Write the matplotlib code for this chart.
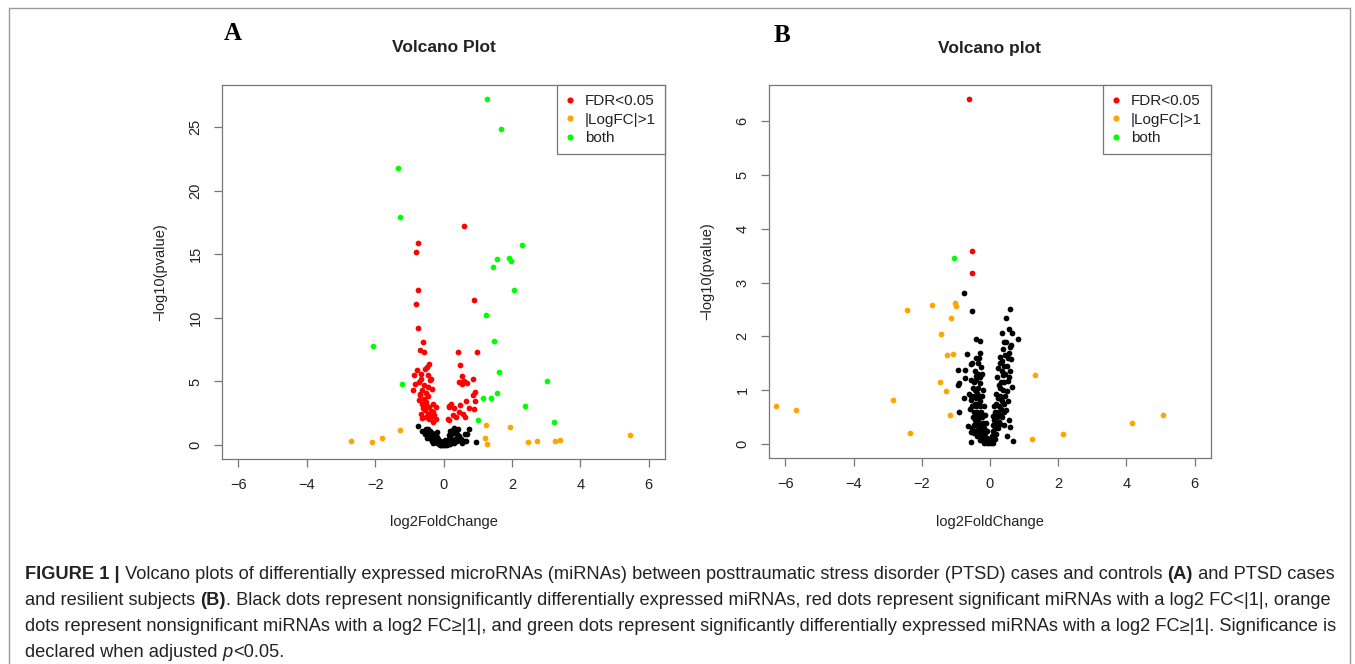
import matplotlib
matplotlib.use("Agg")
import matplotlib.pyplot as plt
from matplotlib.lines import Line2D
from matplotlib.ticker import MultipleLocator

RED = "#FF0000"
ORANGE = "#FFA500"
GREEN = "#00FF00"

# ---- panel A (PTSD vs controls): (log2FoldChange, -log10 pvalue) ----
a_green = [(1.28, 27.2), (1.67, 24.8), (-1.33, 21.8), (-1.27, 17.9), (2.30, 15.7),
           (1.56, 14.6), (1.92, 14.7), (1.97, 14.45), (1.45, 14.0), (2.07, 12.2),
           (1.25, 10.2), (1.49, 8.16), (-2.05, 7.8), (1.62, 5.75), (3.04, 5.07),
           (-1.21, 4.8), (1.16, 3.69), (1.40, 3.74), (1.56, 4.1), (2.38, 3.06),
           (3.23, 1.78), (1.00, 1.96)]
a_orange = [(-2.72, 0.29), (-2.08, 0.21), (-1.81, 0.57), (-1.28, 1.2), (1.25, 1.6),
            (1.95, 1.41), (1.22, 0.55), (1.28, 0.1), (2.48, 0.24), (2.73, 0.29),
            (3.27, 0.34), (3.41, 0.39), (5.46, 0.76)]
a_red = [(-0.74, 15.9), (-0.81, 15.2), (0.59, 17.2), (0.89, 11.4),
         (-0.74, 12.2), (-0.81, 11.06), (-0.74, 9.2), (-0.60, 8.1), (-0.70, 7.5),
         (-0.56, 7.3), (-0.43, 6.4), (-0.49, 6.14), (-0.85, 5.54), (-0.65, 5.6),
         (-0.46, 5.54), (-0.72, 4.97), (-0.58, 4.7), (-0.39, 5.1), (-0.36, 5.23),
         (-0.88, 4.31), (-0.62, 4.37), (-0.51, 4.1), (-0.35, 4.44), (-0.72, 3.58),
         (-0.56, 3.66), (-0.46, 3.84), (-0.32, 3.27), (-0.60, 2.93), (-0.41, 3.0),
         (-0.22, 3.0), (-0.67, 2.43), (-0.46, 2.48), (-0.27, 2.35), (-0.41, 2.09),
         (-0.22, 2.09), (-0.32, 1.83), (0.16, 3.06), (0.13, 2.04), (-0.78, 5.9),
         (-0.66, 5.2), (-0.52, 3.4), (-0.38, 2.7), (-0.63, 3.2), (-0.30, 2.6),
         (-0.50, 2.2), (-0.45, 4.6), (-0.70, 4.0), (-0.55, 6.0), (-0.82, 4.8),
         (-0.68, 3.9), (-0.53, 2.75), (-0.36, 2.2), (-0.64, 2.1), (-0.48, 3.1),
         (0.41, 7.35), (0.99, 7.35), (0.49, 6.27), (0.54, 5.47), (0.86, 5.2),
         (0.45, 4.95), (0.55, 4.8), (0.70, 4.85), (0.91, 4.18), (0.86, 3.9),
         (0.65, 3.47), (0.92, 3.45), (0.23, 3.2), (0.16, 2.98), (0.32, 2.88),
         (0.49, 3.19), (0.88, 2.85), (0.57, 2.48), (0.16, 2.0), (0.37, 2.22),
         (0.45, 2.6), (0.75, 2.9), (0.28, 2.4), (0.62, 2.2), (0.50, 4.95), (0.60, 5.0)]
a_black = [(-0.74, 1.5), (-0.62, 1.15), (-0.44, 0.9), (-0.45, 1.25), (0.76, 1.28),
           (0.70, 0.89), (0.63, 0.91), (0.94, 0.26), (0.66, 0.29), (-0.40, 1.1),
           (-0.35, 0.95), (-0.30, 0.8), (-0.28, 0.6), (-0.25, 0.5), (-0.22, 0.4),
           (-0.20, 0.3), (-0.18, 0.2), (-0.15, 0.15), (-0.12, 0.1), (-0.10, 0.05),
           (-0.08, 0.02), (-0.05, 0.0), (0.0, 0.02), (0.03, 0.05), (0.05, 0.1),
           (0.08, 0.15), (0.10, 0.25), (0.12, 0.35), (0.15, 0.45), (0.18, 0.6),
           (0.20, 0.75), (0.22, 0.9), (0.25, 1.05), (0.28, 1.2), (0.30, 1.35),
           (0.35, 1.1), (0.40, 0.9), (0.45, 0.7), (0.50, 0.5), (-0.33, 0.35),
           (-0.38, 0.5), (-0.42, 0.7), (-0.48, 0.6), (-0.25, 0.9), (-0.20, 0.65),
           (-0.10, 0.3), (0.0, 0.15), (0.10, 0.05), (0.20, 0.1), (0.30, 0.2),
           (0.35, 0.5), (0.25, 0.3), (0.15, 0.8), (0.05, 0.4), (-0.05, 0.25),
           (-0.15, 0.45), (0.40, 0.3), (0.55, 0.2), (0.60, 0.35), (-0.30, 0.2),
           (-0.55, 0.9), (-0.50, 1.3), (0.32, 0.95), (0.18, 1.1), (0.42, 1.25),
           (-0.20, 1.0)]

# ---- panel B (PTSD vs resilient) ----
b_red = [(-0.62, 6.41), (-0.54, 3.59), (-0.54, 3.17)]
b_green = [(-1.06, 3.45)]
b_orange = [(-2.44, 2.49), (-1.71, 2.58), (-1.04, 2.62), (-1.01, 2.56), (-1.15, 2.35),
            (-1.44, 2.04), (-1.25, 1.65), (-1.09, 1.67), (-1.47, 1.15), (-1.28, 0.99),
            (-1.17, 0.54), (-2.84, 0.82), (-2.35, 0.20), (-6.28, 0.71), (-5.68, 0.63),
            (1.31, 1.28), (1.23, 0.10), (2.15, 0.18), (4.16, 0.40), (5.06, 0.54)]
b_black = [(-0.77, 2.81), (-0.54, 2.48), (-0.40, 1.95), (-0.30, 1.92), (-0.67, 1.67),
           (-0.40, 1.60), (-0.32, 1.60), (-0.25, 1.44), (-0.57, 1.48), (-0.72, 1.38),
           (-0.93, 1.37), (-0.40, 1.27), (-0.72, 1.23), (-0.91, 1.13), (-0.95, 1.10),
           (-0.30, 1.13), (-0.62, 0.93), (-0.77, 0.86), (-0.57, 0.82), (-0.91, 0.59),
           (-0.64, 0.34), (-0.57, 0.22), (-0.56, 0.04), (-0.50, 1.05), (-0.45, 1.0),
           (-0.48, 0.9), (-0.42, 0.85), (-0.38, 0.95), (-0.35, 1.05), (-0.33, 0.9),
           (-0.45, 0.75), (-0.40, 0.7), (-0.52, 0.7), (-0.36, 0.75), (-0.30, 0.8),
           (-0.28, 0.7), (-0.47, 0.6), (-0.42, 0.55), (-0.38, 0.6), (-0.32, 0.55),
           (-0.25, 0.6), (-0.50, 0.5), (-0.44, 0.45), (-0.35, 0.45), (-0.28, 0.5),
           (-0.22, 0.5), (-0.46, 0.35), (-0.40, 0.38), (-0.33, 0.35), (-0.26, 0.38),
           (-0.20, 0.4), (-0.42, 0.25), (-0.36, 0.28), (-0.30, 0.25), (-0.23, 0.28),
           (-0.17, 0.3), (-0.38, 0.15), (-0.32, 0.18), (-0.26, 0.15), (-0.20, 0.18),
           (-0.14, 0.2), (-0.30, 0.08), (-0.22, 0.08), (-0.16, 0.1), (-0.10, 0.12),
           (-0.18, 0.03), (-0.12, 0.05), (-0.06, 0.06), (-0.08, 0.02), (-0.03, 0.03),
           (-0.55, 1.2), (-0.48, 1.15), (-0.42, 1.2), (-0.35, 1.3), (-0.28, 1.25),
           (-0.45, 1.35), (-0.52, 1.5), (-0.35, 1.5), (-0.30, 1.7), (-0.22, 1.3),
           (-0.20, 1.0), (-0.24, 0.9), (-0.18, 0.7), (-0.15, 0.55), (-0.12, 0.4),
           (-0.08, 0.25), (-0.55, 0.9), (-0.60, 0.65), (-0.52, 0.3), (-0.48, 0.2),
           (0.58, 2.51), (0.48, 2.35), (0.56, 2.14), (0.35, 2.06), (0.64, 2.06),
           (0.82, 1.95), (0.38, 1.76), (0.58, 1.80), (0.28, 1.61), (0.45, 1.65),
           (0.61, 1.59), (0.24, 1.42), (0.40, 1.45), (0.60, 1.36), (0.21, 1.24),
           (0.38, 1.28), (0.53, 1.18), (0.65, 1.07), (0.28, 1.05), (0.50, 0.98),
           (0.17, 0.93), (0.33, 0.84), (0.48, 0.63), (0.13, 0.70), (0.09, 0.53),
           (0.20, 0.5), (0.60, 0.31), (0.50, 0.16), (0.66, 0.05), (0.0, 0.04),
           (0.30, 1.5), (0.35, 1.35), (0.45, 1.3), (0.42, 1.15), (0.32, 1.15),
           (0.25, 1.1), (0.38, 1.0), (0.45, 0.9), (0.22, 0.85), (0.28, 0.9),
           (0.36, 0.8), (0.42, 0.75), (0.18, 0.75), (0.26, 0.7), (0.33, 0.65),
           (0.40, 0.6), (0.15, 0.6), (0.22, 0.6), (0.28, 0.55), (0.35, 0.5),
           (0.12, 0.45), (0.18, 0.4), (0.25, 0.42), (0.30, 0.38), (0.10, 0.35),
           (0.15, 0.3), (0.22, 0.3), (0.08, 0.25), (0.12, 0.2), (0.18, 0.18),
           (0.05, 0.15), (0.09, 0.12), (0.14, 0.1), (0.03, 0.08), (0.06, 0.05),
           (0.10, 0.03), (0.02, 0.02), (0.50, 1.45), (0.52, 1.6), (0.48, 1.9),
           (0.55, 1.7), (0.40, 1.9), (0.62, 1.85), (0.35, 1.55), (0.55, 1.25),
           (0.52, 0.8), (0.40, 0.35), (0.55, 0.45)]

x_ticks = [-6, -4, -2, 0, 2, 4, 6]
legend_labels = ["FDR<0.05", "|LogFC|>1", "both"]

caption_lines = [
    [("FIGURE 1 |", "bold"), (" Volcano plots of differentially expressed microRNAs (miRNAs) between "
     "posttraumatic stress disorder (PTSD) cases and controls ", "normal"), ("(A)", "bold"),
     (" and PTSD cases", "normal")],
    [("and resilient subjects ", "normal"), ("(B)", "bold"),
     (". Black dots represent nonsignificantly differentially expressed miRNAs, red dots represent "
      "significant miRNAs with a log2 FC<|1|, orange", "normal")],
    [("dots represent nonsignificant miRNAs with a log2 FC\u2265|1|, and green dots represent "
      "significantly differentially expressed miRNAs with a log2 FC\u2265|1|. Significance is", "normal")],
    [("declared when adjusted ", "normal"), ("p", "italic"), ("<0.05.", "normal")],
]

W, H = 1355, 664
SANS = ["Liberation Sans", "DejaVu Sans"]
GRAY = "#777777"
TXT = "#222222"

fig = plt.figure(figsize=(W / 100, H / 100), dpi=100)


def fx(x):
    return x / W


def fy(y):
    return 1 - y / H


def panel(box, black, red, orange, green, ystep, title, letter, letter_pos):
    l, t, r, b = box
    ax = fig.add_axes([fx(l), fy(b), fx(r) - fx(l), fy(t) - fy(b)])
    for pts, col in ((black, "black"), (red, RED), (orange, ORANGE), (green, GREEN)):
        ax.scatter([p[0] for p in pts], [p[1] for p in pts], s=17, c=col, lw=0, zorder=3)
    ymax = max(p[1] for pts in (black, red, orange, green) for p in pts)
    ax.set_xlim(-6.48, 6.48)
    ax.set_ylim(-0.04 * ymax, 1.04 * ymax)
    ax.set_xticks(x_ticks)
    ax.yaxis.set_major_locator(MultipleLocator(ystep))
    ax.tick_params(direction="out", length=6, width=0.9, color=GRAY, labelsize=10.5,
                   labelcolor=TXT, pad=8)
    ax.tick_params(axis="y", labelrotation=90)
    for lab in ax.get_yticklabels():
        lab.set_va("center")
        lab.set_family(SANS)
    for lab in ax.get_xticklabels():
        lab.set_family(SANS)
    for sp in ax.spines.values():
        sp.set_color(GRAY)
        sp.set_linewidth(0.9)
    handles = [Line2D([], [], marker="o", ls="", color=c, markersize=3.4)
               for c in (RED, ORANGE, GREEN)]
    leg = ax.legend(handles, legend_labels, loc="upper right", borderaxespad=0,
                    fancybox=False, edgecolor=GRAY, framealpha=1, handlelength=0.45,
                    handletextpad=0.75, borderpad=0.6, labelspacing=0.3,
                    prop={"family": SANS, "size": 11})
    leg.get_frame().set_linewidth(0.9)
    for tx in leg.get_texts():
        tx.set_color(TXT)
    cx = (l + r) / 2
    fig.text(fx(cx), fy(48), title, ha="center", va="center", fontsize=12.5,
             fontweight="bold", family=SANS, color=TXT)
    fig.text(fx(cx), fy(522), "log2FoldChange", ha="center", va="center", fontsize=10.5,
             family=SANS, color=TXT)
    fig.text(fx(l - 62), fy((t + b) / 2), "\u2212log10(pvalue)", ha="center", va="center",
             rotation=90, fontsize=10.5, family=SANS, color=TXT)
    fig.text(fx(letter_pos[0]), fy(letter_pos[1]), letter, ha="center", va="center",
             fontsize=18, fontweight="bold", family=["Liberation Serif", "DejaVu Serif"],
             color="black")
    return ax


panel((222, 85, 665, 459), a_black, a_red, a_orange, a_green, 5, "Volcano Plot", "A", (233, 34))
panel((769, 85, 1211, 458), b_black, b_red, b_orange, b_green, 1, "Volcano plot", "B", (782, 35))

# outer frame
fig.add_artist(Line2D([fx(9), fx(9), fx(1350), fx(1350)], [fy(700), fy(8), fy(8), fy(700)],
                      transform=fig.transFigure, color="#9a9a9a", lw=1))

# caption, pieces chained along each line
renderer = fig.canvas.get_renderer()


def cap_text(x, y, s, size, weight, style):
    return fig.text(x, y, s, fontsize=size, fontweight=weight, fontstyle=style,
                    family=SANS, color=TXT, ha="left", va="baseline")


def width(s, size, weight, style):
    t1 = cap_text(0, 0, "|" + s + "|", size, weight, style)
    t2 = cap_text(0, 0, "||", size, weight, style)
    w = t1.get_window_extent(renderer).width - t2.get_window_extent(renderer).width
    t1.remove()
    t2.remove()
    return w


def style_of(kind):
    return ("bold" if kind == "bold" else "normal", "italic" if kind == "italic" else "normal")


size0 = 12.0
w0 = sum(width(s, size0, *style_of(k)) for s, k in caption_lines[0])
cap_size = size0 * (1338 - 25) / w0

baselines = [579, 605, 631, 657]
for line, base in zip(caption_lines, baselines):
    x = 25.0
    for s, kind in line:
        wt, st = style_of(kind)
        cap_text(fx(x), fy(base), s, cap_size, wt, st)
        x += width(s, cap_size, wt, st)

fig.savefig("out.png", dpi=100)
